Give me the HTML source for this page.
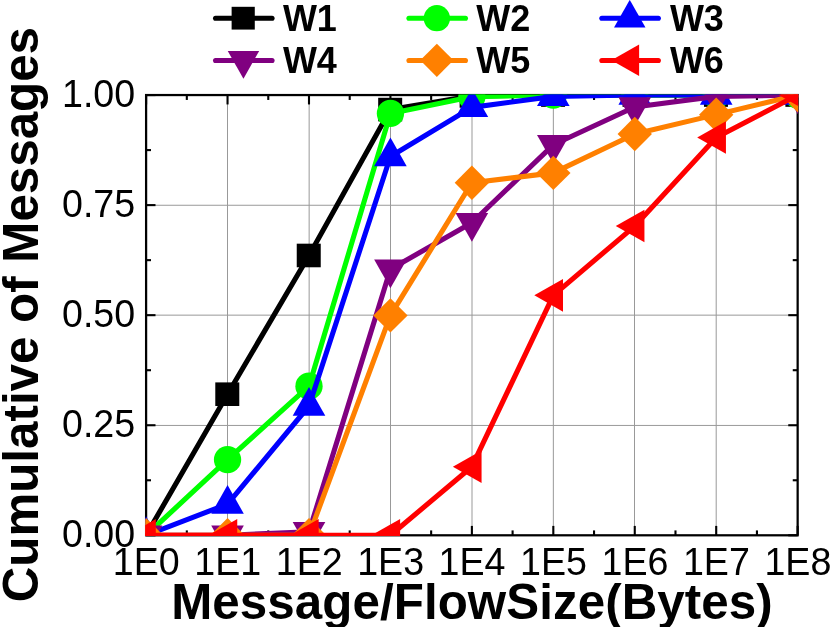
<!DOCTYPE html>
<html><head><meta charset="utf-8"><title>CDF</title>
<style>
html,body{margin:0;padding:0;background:#fff;}
body{width:830px;height:627px;overflow:hidden;}
svg{display:block;will-change:transform;}
text{font-family:"Liberation Sans",sans-serif;fill:#000;}
.tk{font-size:38px;}
.lg{font-size:36px;font-weight:bold;}
.ti{font-size:49.3px;font-weight:bold;}
</style></head><body>
<svg width="830" height="627" viewBox="0 0 830 627">
<rect x="0" y="0" width="830" height="627" fill="#fff"/>
<defs><clipPath id="cp"><rect x="145.2" y="94.5" width="653" height="441.5"/></clipPath></defs>
<g stroke="#999" stroke-width="1"><line x1="227.5" y1="95.05" x2="227.5" y2="535.3"/><line x1="309.15" y1="95.05" x2="309.15" y2="535.3"/><line x1="390.5" y1="95.05" x2="390.5" y2="535.3"/><line x1="472.0" y1="95.05" x2="472.0" y2="535.3"/><line x1="553.35" y1="95.05" x2="553.35" y2="535.3"/><line x1="634.5" y1="95.05" x2="634.5" y2="535.3"/><line x1="716.2" y1="95.05" x2="716.2" y2="535.3"/><line x1="146.1" y1="425.45" x2="797.65" y2="425.45"/><line x1="146.1" y1="315.15" x2="797.65" y2="315.15"/><line x1="146.1" y1="205.25" x2="797.65" y2="205.25"/></g>
<rect x="146.1" y="95.05" width="651.55" height="440.25" fill="none" stroke="#000" stroke-width="2.25"/>
<g stroke="#000" stroke-width="2.1"><line x1="146.10" y1="535.3" x2="146.10" y2="525.90"/><line x1="146.10" y1="95.05" x2="146.10" y2="104.45"/><line x1="186.82" y1="535.3" x2="186.82" y2="530.40"/><line x1="186.82" y1="95.05" x2="186.82" y2="99.95"/><line x1="227.54" y1="535.3" x2="227.54" y2="525.90"/><line x1="227.54" y1="95.05" x2="227.54" y2="104.45"/><line x1="268.27" y1="535.3" x2="268.27" y2="530.40"/><line x1="268.27" y1="95.05" x2="268.27" y2="99.95"/><line x1="308.99" y1="535.3" x2="308.99" y2="525.90"/><line x1="308.99" y1="95.05" x2="308.99" y2="104.45"/><line x1="349.71" y1="535.3" x2="349.71" y2="530.40"/><line x1="349.71" y1="95.05" x2="349.71" y2="99.95"/><line x1="390.43" y1="535.3" x2="390.43" y2="525.90"/><line x1="390.43" y1="95.05" x2="390.43" y2="104.45"/><line x1="431.15" y1="535.3" x2="431.15" y2="530.40"/><line x1="431.15" y1="95.05" x2="431.15" y2="99.95"/><line x1="471.88" y1="535.3" x2="471.88" y2="525.90"/><line x1="471.88" y1="95.05" x2="471.88" y2="104.45"/><line x1="512.60" y1="535.3" x2="512.60" y2="530.40"/><line x1="512.60" y1="95.05" x2="512.60" y2="99.95"/><line x1="553.32" y1="535.3" x2="553.32" y2="525.90"/><line x1="553.32" y1="95.05" x2="553.32" y2="104.45"/><line x1="594.04" y1="535.3" x2="594.04" y2="530.40"/><line x1="594.04" y1="95.05" x2="594.04" y2="99.95"/><line x1="634.76" y1="535.3" x2="634.76" y2="525.90"/><line x1="634.76" y1="95.05" x2="634.76" y2="104.45"/><line x1="675.48" y1="535.3" x2="675.48" y2="530.40"/><line x1="675.48" y1="95.05" x2="675.48" y2="99.95"/><line x1="716.21" y1="535.3" x2="716.21" y2="525.90"/><line x1="716.21" y1="95.05" x2="716.21" y2="104.45"/><line x1="756.93" y1="535.3" x2="756.93" y2="530.40"/><line x1="756.93" y1="95.05" x2="756.93" y2="99.95"/><line x1="797.65" y1="535.3" x2="797.65" y2="525.90"/><line x1="797.65" y1="95.05" x2="797.65" y2="104.45"/><line x1="146.1" y1="535.30" x2="155.50" y2="535.30"/><line x1="797.65" y1="535.30" x2="788.25" y2="535.30"/><line x1="146.1" y1="480.27" x2="151.00" y2="480.27"/><line x1="797.65" y1="480.27" x2="792.75" y2="480.27"/><line x1="146.1" y1="425.24" x2="155.50" y2="425.24"/><line x1="797.65" y1="425.24" x2="788.25" y2="425.24"/><line x1="146.1" y1="370.21" x2="151.00" y2="370.21"/><line x1="797.65" y1="370.21" x2="792.75" y2="370.21"/><line x1="146.1" y1="315.17" x2="155.50" y2="315.17"/><line x1="797.65" y1="315.17" x2="788.25" y2="315.17"/><line x1="146.1" y1="260.14" x2="151.00" y2="260.14"/><line x1="797.65" y1="260.14" x2="792.75" y2="260.14"/><line x1="146.1" y1="205.11" x2="155.50" y2="205.11"/><line x1="797.65" y1="205.11" x2="788.25" y2="205.11"/><line x1="146.1" y1="150.08" x2="151.00" y2="150.08"/><line x1="797.65" y1="150.08" x2="792.75" y2="150.08"/><line x1="146.1" y1="95.05" x2="155.50" y2="95.05"/><line x1="797.65" y1="95.05" x2="788.25" y2="95.05"/></g>
<g clip-path="url(#cp)"><polyline points="146.10,535.30 227.54,394.20 308.99,255.48 390.43,109.58 471.88,95.93 553.32,95.05 634.76,95.05 716.21,95.05 797.65,95.05" fill="none" stroke="#000000" stroke-width="5.1" stroke-linejoin="round" stroke-linecap="round"/>
<rect x="133.85" y="523.50" width="24.00" height="23.60" fill="#000000"/>
<rect x="215.29" y="382.40" width="24.00" height="23.60" fill="#000000"/>
<rect x="296.74" y="243.68" width="24.00" height="23.60" fill="#000000"/>
<rect x="378.18" y="97.78" width="24.00" height="23.60" fill="#000000"/>
<rect x="459.62" y="84.13" width="24.00" height="23.60" fill="#000000"/>
<rect x="541.07" y="83.25" width="24.00" height="23.60" fill="#000000"/>
<rect x="622.51" y="83.25" width="24.00" height="23.60" fill="#000000"/>
<rect x="703.96" y="83.25" width="24.00" height="23.60" fill="#000000"/>
<rect x="785.40" y="83.25" width="24.00" height="23.60" fill="#000000"/>
<polyline points="146.10,535.30 227.54,459.67 308.99,386.19 390.43,113.45 471.88,96.81 553.32,95.05 634.76,95.05 716.21,95.05 797.65,95.05" fill="none" stroke="#00ff00" stroke-width="5.1" stroke-linejoin="round" stroke-linecap="round"/>
<circle cx="146.10" cy="535.30" r="13.65" fill="#00ff00"/>
<circle cx="227.54" cy="459.67" r="13.65" fill="#00ff00"/>
<circle cx="308.99" cy="386.19" r="13.65" fill="#00ff00"/>
<circle cx="390.43" cy="113.45" r="13.65" fill="#00ff00"/>
<circle cx="471.88" cy="96.81" r="13.65" fill="#00ff00"/>
<circle cx="553.32" cy="95.05" r="13.65" fill="#00ff00"/>
<circle cx="634.76" cy="95.05" r="13.65" fill="#00ff00"/>
<circle cx="716.21" cy="95.05" r="13.65" fill="#00ff00"/>
<circle cx="797.65" cy="95.05" r="13.65" fill="#00ff00"/>
<polyline points="146.10,535.30 227.54,504.04 308.99,406.00 390.43,156.51 471.88,107.38 553.32,96.37 634.76,95.05 716.21,95.05 797.65,95.05" fill="none" stroke="#0000ff" stroke-width="5.1" stroke-linejoin="round" stroke-linecap="round"/>
<polygon points="146.10,516.30 162.40,545.00 129.80,545.00" fill="#0000ff"/>
<polygon points="227.54,485.04 243.84,513.74 211.24,513.74" fill="#0000ff"/>
<polygon points="308.99,387.00 325.29,415.70 292.69,415.70" fill="#0000ff"/>
<polygon points="390.43,137.51 406.73,166.21 374.13,166.21" fill="#0000ff"/>
<polygon points="471.88,88.38 488.18,117.08 455.57,117.08" fill="#0000ff"/>
<polygon points="553.32,77.37 569.62,106.07 537.02,106.07" fill="#0000ff"/>
<polygon points="634.76,76.05 651.06,104.75 618.46,104.75" fill="#0000ff"/>
<polygon points="716.21,76.05 732.51,104.75 699.91,104.75" fill="#0000ff"/>
<polygon points="797.65,76.05 813.95,104.75 781.35,104.75" fill="#0000ff"/>
<polyline points="146.10,535.30 227.54,535.30 308.99,531.78 390.43,269.26 471.88,222.72 553.32,144.80 634.76,107.02 716.21,96.37 797.65,95.05" fill="none" stroke="#800080" stroke-width="5.1" stroke-linejoin="round" stroke-linecap="round"/>
<polygon points="146.10,554.30 162.40,525.60 129.80,525.60" fill="#800080"/>
<polygon points="227.54,554.30 243.84,525.60 211.24,525.60" fill="#800080"/>
<polygon points="308.99,550.78 325.29,522.08 292.69,522.08" fill="#800080"/>
<polygon points="390.43,288.26 406.73,259.56 374.13,259.56" fill="#800080"/>
<polygon points="471.88,241.72 488.18,213.02 455.57,213.02" fill="#800080"/>
<polygon points="553.32,163.80 569.62,135.10 537.02,135.10" fill="#800080"/>
<polygon points="634.76,126.02 651.06,97.32 618.46,97.32" fill="#800080"/>
<polygon points="716.21,115.37 732.51,86.67 699.91,86.67" fill="#800080"/>
<polygon points="797.65,114.05 813.95,85.35 781.35,85.35" fill="#800080"/>
<polyline points="146.10,535.30 227.54,535.30 308.99,535.30 390.43,315.40 471.88,182.79 553.32,172.89 634.76,133.97 716.21,114.64 797.65,95.05" fill="none" stroke="#ff8000" stroke-width="5.1" stroke-linejoin="round" stroke-linecap="round"/>
<polygon points="146.10,518.10 163.30,535.30 146.10,552.50 128.90,535.30" fill="#ff8000"/>
<polygon points="227.54,518.10 244.74,535.30 227.54,552.50 210.34,535.30" fill="#ff8000"/>
<polygon points="308.99,518.10 326.19,535.30 308.99,552.50 291.79,535.30" fill="#ff8000"/>
<polygon points="390.43,298.20 407.63,315.40 390.43,332.60 373.23,315.40" fill="#ff8000"/>
<polygon points="471.88,165.59 489.07,182.79 471.88,199.99 454.68,182.79" fill="#ff8000"/>
<polygon points="553.32,155.69 570.52,172.89 553.32,190.09 536.12,172.89" fill="#ff8000"/>
<polygon points="634.76,116.77 651.96,133.97 634.76,151.17 617.56,133.97" fill="#ff8000"/>
<polygon points="716.21,97.44 733.41,114.64 716.21,131.84 699.01,114.64" fill="#ff8000"/>
<polygon points="797.65,77.85 814.85,95.05 797.65,112.25 780.45,95.05" fill="#ff8000"/>
<polyline points="146.10,535.30 227.54,535.30 308.99,535.30 390.43,535.30 471.88,466.71 553.32,295.36 634.76,226.07 716.21,137.53 797.65,95.05" fill="none" stroke="#ff0000" stroke-width="5.1" stroke-linejoin="round" stroke-linecap="round"/>
<polygon points="127.10,535.30 155.80,519.00 155.80,551.60" fill="#ff0000"/>
<polygon points="208.54,535.30 237.24,519.00 237.24,551.60" fill="#ff0000"/>
<polygon points="289.99,535.30 318.69,519.00 318.69,551.60" fill="#ff0000"/>
<polygon points="371.43,535.30 400.13,519.00 400.13,551.60" fill="#ff0000"/>
<polygon points="452.88,466.71 481.57,450.41 481.57,483.01" fill="#ff0000"/>
<polygon points="534.32,295.36 563.02,279.06 563.02,311.66" fill="#ff0000"/>
<polygon points="615.76,226.07 644.46,209.77 644.46,242.37" fill="#ff0000"/>
<polygon points="697.21,137.53 725.91,121.23 725.91,153.83" fill="#ff0000"/>
<polygon points="778.65,95.05 807.35,78.75 807.35,111.35" fill="#ff0000"/></g>
<text class="tk" transform="translate(146.30,575) scale(0.99,1)" text-anchor="middle">1E0</text>
<text class="tk" transform="translate(227.74,575) scale(0.99,1)" text-anchor="middle">1E1</text>
<text class="tk" transform="translate(309.19,575) scale(0.99,1)" text-anchor="middle">1E2</text>
<text class="tk" transform="translate(390.63,575) scale(0.99,1)" text-anchor="middle">1E3</text>
<text class="tk" transform="translate(472.07,575) scale(0.99,1)" text-anchor="middle">1E4</text>
<text class="tk" transform="translate(553.52,575) scale(0.99,1)" text-anchor="middle">1E5</text>
<text class="tk" transform="translate(634.96,575) scale(0.99,1)" text-anchor="middle">1E6</text>
<text class="tk" transform="translate(716.41,575) scale(0.99,1)" text-anchor="middle">1E7</text>
<text class="tk" transform="translate(797.85,575) scale(0.99,1)" text-anchor="middle">1E8</text>
<text class="tk" style="font-size:39.6px" transform="translate(135.2,547.40) scale(0.95,1)" text-anchor="end">0.00</text>
<text class="tk" style="font-size:39.6px" transform="translate(135.2,437.34) scale(0.95,1)" text-anchor="end">0.25</text>
<text class="tk" style="font-size:39.6px" transform="translate(135.2,327.27) scale(0.95,1)" text-anchor="end">0.50</text>
<text class="tk" style="font-size:39.6px" transform="translate(135.2,217.21) scale(0.95,1)" text-anchor="end">0.75</text>
<text class="tk" style="font-size:39.6px" transform="translate(135.2,107.15) scale(0.95,1)" text-anchor="end">1.00</text>
<line x1="215.55" y1="18.3" x2="272.05" y2="18.3" stroke="#000000" stroke-width="5.1" stroke-linecap="round"/>
<rect x="231.62" y="6.81" width="23.16" height="22.77" fill="#000000"/>
<text class="lg" x="282.90" y="30.80">W1</text>
<line x1="408.95" y1="18.3" x2="465.45" y2="18.3" stroke="#00ff00" stroke-width="5.1" stroke-linecap="round"/>
<circle cx="436.85" cy="18.20" r="13.17" fill="#00ff00"/>
<text class="lg" x="476.30" y="30.80">W2</text>
<line x1="601.85" y1="18.3" x2="658.35" y2="18.3" stroke="#0000ff" stroke-width="5.1" stroke-linecap="round"/>
<polygon points="629.75,-0.14 645.48,27.56 614.02,27.56" fill="#0000ff"/>
<text class="lg" x="669.90" y="30.80">W3</text>
<line x1="215.55" y1="60.45" x2="272.05" y2="60.45" stroke="#800080" stroke-width="5.1" stroke-linecap="round"/>
<polygon points="243.45,78.69 259.18,50.99 227.72,50.99" fill="#800080"/>
<text class="lg" x="282.90" y="72.95">W4</text>
<line x1="408.95" y1="60.45" x2="465.45" y2="60.45" stroke="#ff8000" stroke-width="5.1" stroke-linecap="round"/>
<polygon points="436.85,43.75 453.45,60.35 436.85,76.95 420.25,60.35" fill="#ff8000"/>
<text class="lg" x="476.30" y="72.95">W5</text>
<line x1="601.85" y1="60.45" x2="658.35" y2="60.45" stroke="#ff0000" stroke-width="5.1" stroke-linecap="round"/>
<polygon points="611.41,60.35 639.11,44.62 639.11,76.08" fill="#ff0000"/>
<text class="lg" x="669.90" y="72.95">W6</text>
<text class="ti" x="171.2" y="619" letter-spacing="0.07">Message/FlowSize(Bytes)</text>
<text class="ti" transform="translate(37.6,602.3) rotate(-90)" x="0" y="0">Cumulative of Messages</text>
</svg></body></html>
